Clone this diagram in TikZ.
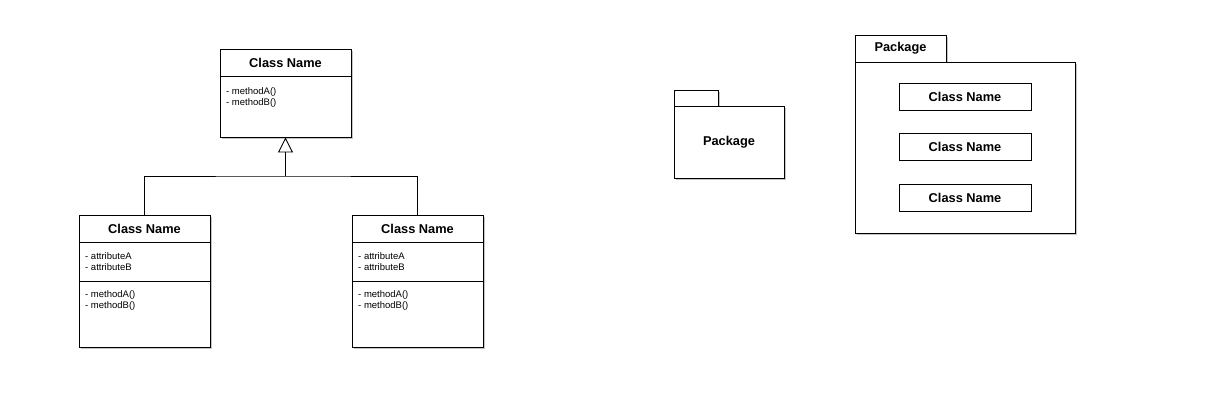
\documentclass[tikz,border=0pt]{standalone}
\usepackage{fontspec}
\setmainfont{Liberation Sans}
\usetikzlibrary{arrows.meta, shadows, positioning}

\begin{document}
\begin{tikzpicture}[x=1pt, y=-1pt,
        umlbox/.style={draw, fill=white, line width=0.9pt, inner sep=0pt,
            drop shadow={fill=black!45, opacity=0.5, shadow xshift=1.5pt, shadow yshift=-2pt}},
        plainbox/.style={draw, fill=white, line width=0.9pt, inner sep=0pt},
        clsname/.style={font=\fontsize{12.8}{14}\selectfont\bfseries},
        member/.style={font=\fontsize{9.5}{11}\selectfont, anchor=base west, inner sep=0pt}]
        \useasboundingbox (0,0) rectangle (1206,415);

        % generalisation: parent and two children
        \node[umlbox, minimum width=131pt, minimum height=88pt] (parent) at (285.5,93) {};
        \node[clsname] (parentname) at (285.5,63) {Class Name};
        \draw[line width=0.9pt] ([yshift=-28pt]parent.north west) -- ([yshift=-28pt]parent.north east);
        \node[member] (pm1) at (226,94) {- methodA()};
        \node[member] (pm2) at (226,105) {- methodB()};

        \node[umlbox, minimum width=131pt, minimum height=132pt] (left) at (144.5,281) {};
        \node[clsname] (leftname) at (144.5,229) {Class Name};
        \draw[line width=0.9pt] ([yshift=-28pt]left.north west) -- ([yshift=-28pt]left.north east)
            ([yshift=-67pt]left.north west) -- ([yshift=-67pt]left.north east);
        \node[member] (la1) at (85,259.5) {- attributeA};
        \node[member] (la2) at (85,270.5) {- attributeB};
        \node[member] (lm1) at (85,297.5) {- methodA()};
        \node[member] (lm2) at (85,308.5) {- methodB()};

        \node[umlbox, minimum width=131pt, minimum height=132pt] (right) at (417.5,281) {};
        \node[clsname] (rightname) at (417.5,229) {Class Name};
        \draw[line width=0.9pt] ([yshift=-28pt]right.north west) -- ([yshift=-28pt]right.north east)
            ([yshift=-67pt]right.north west) -- ([yshift=-67pt]right.north east);
        \node[member] (ra1) at (358,259.5) {- attributeA};
        \node[member] (ra2) at (358,270.5) {- attributeB};
        \node[member] (rm1) at (358,297.5) {- methodA()};
        \node[member] (rm2) at (358,308.5) {- methodB()};

        \coordinate (join) at (285.5,176);
        \draw[line width=0.9pt] (left.north) |- (join) -| (right.north);
        \draw[line width=0.9pt, -{Triangle[open, width=15pt, length=15pt]}] (join) -- (parent.south);

        % small package
        \node[umlbox, minimum width=44pt, minimum height=16pt] (smalltab) at (696,98) {};
        \node[umlbox, minimum width=110pt, minimum height=72pt] (smallpkg) at (729,142) {};
        \node[clsname] (smallname) at (smallpkg) {Package};

        % package with classes
        \node[umlbox, minimum width=91pt, minimum height=27pt] (bigtab) at (900.5,48.5) {};
        \node[clsname] (bigname) at (bigtab) {Package};
        \node[umlbox, minimum width=220pt, minimum height=171pt] (bigpkg) at (965,147.5) {};
        \node[plainbox, minimum width=132pt, minimum height=27pt, clsname] (c1) at (965,96.5) {Class Name};
        \node[plainbox, minimum width=132pt, minimum height=27pt, clsname] (c2) at (965,147) {Class Name};
        \node[plainbox, minimum width=132pt, minimum height=27pt, clsname] (c3) at (965,197.5) {Class Name};
\end{tikzpicture}
\end{document}
